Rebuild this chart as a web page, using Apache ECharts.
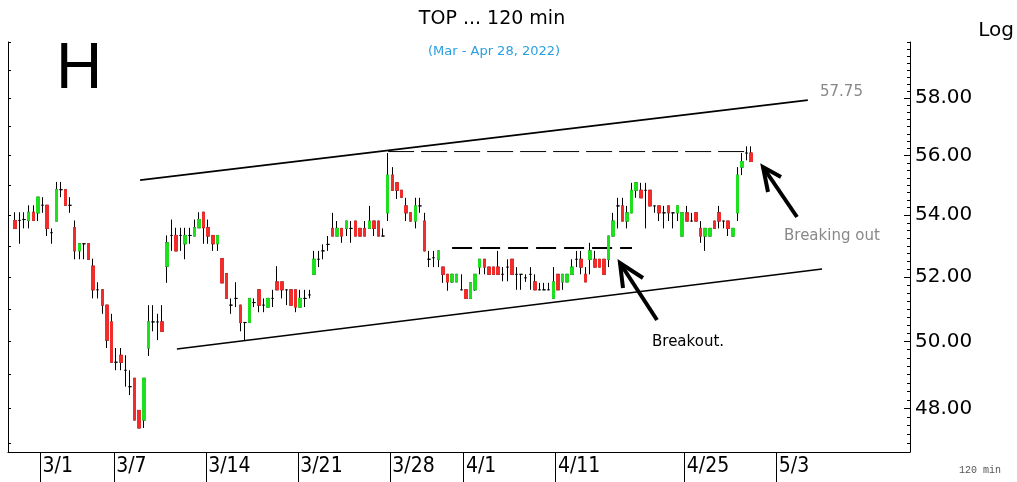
<!DOCTYPE html>
<html>
<head>
<meta charset="utf-8">
<title>TOP 120 min</title>
<script src="https://cdn.jsdelivr.net/npm/echarts@6/dist/echarts.min.js"></script>
<style>
  html, body { margin: 0; padding: 0; background: #fff; }
  #chart { width: 1017px; height: 482px; }
</style>
</head>
<body>
<div id="chart"></div>
<script>
/* ----------  data (120 min bars)  ---------- */
const opens = [
  53.83, 53.83, 53.86, 53.83, 54.10, 54.08, 54.33, 54.33, 53.43, 53.81,
  54.85, 54.85, 54.33, 53.59, 52.84, 53.07, 53.07, 52.35, 51.60, 51.60,
  51.12, 50.60, 49.37, 49.58, 49.13, 48.64, 48.89, 47.94, 47.66, 49.80,
  50.60, 50.60, 50.60, 52.35, 53.34, 53.34, 53.34, 53.07, 53.34, 53.32,
  53.59, 54.10, 53.59, 53.34, 53.07, 52.59, 52.11, 51.12, 51.33, 51.12,
  50.58, 50.58, 51.20, 51.60, 51.12, 51.06, 51.33, 51.85, 51.85, 51.60,
  51.60, 51.60, 51.06, 51.33, 51.44, 52.09, 52.57, 52.84, 53.05, 53.57,
  53.32, 53.57, 53.57, 53.57, 53.81, 53.57, 53.57, 53.57, 53.81, 53.81,
  53.32, 54.08, 55.34, 55.08, 54.83, 54.31, 54.08, 53.81, 54.31, 53.81,
  52.57, 52.62, 52.57, 52.32, 52.09, 51.85, 51.85, 51.60, 51.60, 51.33,
  51.60, 52.32, 52.57, 52.32, 52.32, 52.32, 52.09, 52.32, 52.57, 52.09,
  52.09, 51.98, 52.09, 51.85, 51.60, 51.60, 51.60, 51.33, 52.09, 51.85,
  51.85, 52.09, 52.57, 52.57, 52.09, 52.57, 52.57, 52.57, 52.57, 52.57,
  53.32, 54.31, 54.31, 53.81, 54.08, 54.83, 54.83, 54.83, 54.83, 54.31,
  54.31, 54.08, 54.31, 54.08, 54.08, 53.32, 54.08, 53.81, 54.08, 53.57,
  53.32, 53.32, 53.81, 54.08, 53.81, 53.81, 53.32, 54.08, 55.61, 56.09,
  56.09
];
const highs = [
  54.10, 54.10, 54.10, 54.33, 54.33, 54.60, 54.60, 54.33, 53.57, 55.11,
  55.11, 54.85, 54.60, 53.83, 53.07, 53.07, 53.07, 52.59, 51.84, 51.60,
  51.12, 50.85, 49.80, 49.80, 49.58, 49.13, 48.89, 47.94, 48.89, 51.12,
  51.12, 50.85, 51.12, 53.34, 53.86, 53.59, 53.59, 53.59, 53.59, 53.86,
  54.10, 54.10, 53.86, 53.34, 53.34, 52.59, 52.11, 51.33, 51.84, 51.12,
  50.60, 51.33, 51.33, 51.60, 51.33, 51.33, 51.60, 52.35, 51.85, 51.60,
  51.60, 51.60, 51.60, 51.60, 51.60, 52.84, 52.84, 53.05, 53.32, 54.08,
  53.81, 53.57, 53.81, 53.81, 53.81, 53.57, 53.81, 54.31, 53.81, 53.81,
  53.57, 56.09, 55.61, 55.08, 54.83, 54.58, 54.08, 54.58, 54.58, 54.08,
  52.84, 52.84, 52.84, 52.32, 52.09, 52.09, 52.09, 52.09, 51.60, 51.82,
  52.09, 52.57, 52.57, 52.32, 52.32, 52.84, 52.32, 52.57, 52.57, 52.32,
  52.09, 52.09, 52.32, 52.09, 51.82, 51.82, 51.82, 52.32, 52.09, 52.09,
  52.09, 52.57, 52.84, 52.84, 52.32, 53.10, 52.84, 52.57, 52.57, 53.32,
  54.08, 54.58, 54.58, 54.31, 55.08, 55.08, 55.08, 55.08, 54.83, 54.31,
  54.31, 54.31, 54.31, 54.08, 54.31, 54.08, 54.31, 54.08, 54.08, 53.81,
  53.57, 53.57, 53.81, 54.31, 53.81, 53.81, 53.57, 55.61, 56.09, 56.32,
  56.32
];
const lows = [
  53.57, 53.07, 53.57, 53.57, 53.83, 53.81, 54.08, 53.32, 53.07, 53.81,
  54.60, 54.33, 54.08, 52.57, 52.57, 52.57, 52.57, 51.33, 51.33, 50.85,
  49.80, 49.37, 49.13, 49.13, 48.64, 48.39, 47.66, 47.43, 47.43, 49.56,
  50.31, 50.04, 50.31, 51.82, 52.84, 52.84, 52.84, 52.57, 53.07, 53.32,
  53.59, 53.07, 53.07, 52.84, 52.84, 51.82, 51.33, 50.85, 51.06, 50.31,
  50.04, 50.58, 51.06, 50.90, 50.90, 51.06, 51.06, 51.60, 51.33, 51.12,
  51.12, 50.90, 51.06, 51.06, 51.33, 52.09, 52.32, 52.57, 52.84, 53.32,
  53.32, 53.10, 53.32, 53.10, 53.32, 53.32, 53.32, 53.57, 53.32, 53.32,
  53.32, 53.81, 54.83, 54.54, 54.58, 53.81, 53.81, 53.57, 54.08, 52.84,
  52.32, 52.32, 52.32, 51.82, 51.57, 51.82, 51.85, 51.60, 51.33, 51.33,
  51.57, 52.09, 52.09, 52.09, 52.09, 52.09, 51.87, 51.87, 52.09, 51.60,
  51.60, 51.85, 51.60, 51.60, 51.60, 51.60, 51.60, 51.33, 51.60, 51.60,
  51.85, 52.09, 52.32, 52.09, 51.85, 52.09, 52.32, 52.32, 52.09, 52.32,
  53.32, 53.57, 53.81, 53.57, 54.08, 54.58, 54.58, 53.57, 54.31, 54.08,
  53.81, 53.57, 53.81, 53.57, 53.81, 53.32, 53.81, 53.81, 53.81, 53.10,
  52.84, 53.32, 53.57, 53.57, 53.57, 53.32, 53.32, 53.81, 55.34, 55.84,
  55.80
];
const closes = [
  53.57, 53.83, 53.86, 54.10, 53.83, 54.60, 54.33, 53.57, 53.43, 54.85,
  54.85, 54.33, 54.33, 52.84, 53.07, 53.07, 52.57, 51.60, 51.60, 51.12,
  50.04, 49.37, 49.37, 49.37, 49.13, 48.64, 47.66, 47.43, 48.89, 50.60,
  50.60, 50.60, 50.31, 53.10, 53.34, 52.84, 53.34, 53.34, 53.34, 53.59,
  53.86, 53.59, 53.32, 53.07, 53.34, 51.82, 51.33, 51.12, 51.33, 50.58,
  50.58, 51.33, 51.20, 51.12, 51.12, 51.33, 51.33, 51.60, 51.60, 51.60,
  51.12, 51.06, 51.33, 51.33, 51.44, 52.57, 52.57, 52.84, 53.05, 53.32,
  53.57, 53.32, 53.81, 53.57, 53.32, 53.32, 53.32, 53.81, 53.57, 53.32,
  53.32, 55.34, 54.83, 54.83, 54.60, 54.08, 53.81, 54.31, 54.31, 52.84,
  52.57, 52.62, 52.84, 52.09, 51.85, 52.09, 52.09, 51.60, 51.33, 51.82,
  52.09, 52.57, 52.32, 52.09, 52.09, 52.09, 52.09, 52.32, 52.09, 52.09,
  52.09, 51.98, 52.09, 51.60, 51.60, 51.60, 51.60, 51.85, 51.60, 52.09,
  52.09, 52.32, 52.57, 52.32, 51.85, 52.84, 52.32, 52.32, 52.09, 53.32,
  53.81, 54.31, 53.81, 54.08, 54.83, 55.08, 54.58, 54.83, 54.31, 54.31,
  54.08, 54.08, 54.08, 54.08, 54.31, 54.08, 53.81, 53.81, 53.81, 53.32,
  53.57, 53.57, 53.57, 53.81, 53.81, 53.57, 53.57, 55.34, 55.80, 56.09,
  55.80
];

/* x axis: one slot per bar, labels on selected slots */
const slotCount = 196;
const firstSlot = 1;
const tickIdx = [7, 23, 43, 63, 83, 99, 119, 147, 167];
const tickLabels = ['3/1', '3/7', '3/14', '3/21', '3/28', '4/1', '4/11', '4/25', '5/3'];

/* y axis (log) */
const priceLabels = [48, 50, 52, 54, 56, 58];
const wholePrices = [47, 48, 49, 50, 51, 52, 53, 54, 55, 56, 57, 58, 59, 60];
const yMin = 46.74;
const yMax = 60.02;

/* drawn lines: [slot position, price] */
const upperLine = [[28.7, 55.17], [173.8, 57.93]];
const lowerLine = [[36.7, 49.77], [176.9, 52.26]];
const topDash = [[82.6, 56.14], [160.8, 56.14]];
const midDash = [[96.5, 52.93], [135.6, 52.93]];

/* ----------  build  ---------- */
const lg = Math.log;
const blank = ['-', '-', '-', '-'];

const labelAt = {};
tickIdx.forEach((k, i) => { labelAt[k] = tickLabels[i]; });
const slots = [];
for (let i = 0; i < slotCount; i++) slots.push('s' + i);

const wickData = [];
const bodyData = [];
for (let i = 0; i < firstSlot; i++) { wickData.push(blank); bodyData.push(blank); }
opens.forEach((o, i) => {
  const c = closes[i];
  wickData.push([lg(o), lg(c), lg(lows[i]), lg(highs[i])]);
  bodyData.push(o === c ? blank : [lg(o), lg(c), lg(Math.min(o, c)), lg(Math.max(o, c))]);
});

const minorTicks = [];
for (let p = 47; p <= 60.001; p += 0.25) minorTicks.push(lg(p));

const toLn = (pts) => pts.map(([x, p]) => [x, lg(p)]);
function trend(pts, width, type) {
  return {
    type: 'line',
    xAxisIndex: 1,
    yAxisIndex: 0,
    data: toLn(pts),
    symbol: 'none',
    silent: true,
    lineStyle: { color: '#000', width, type },
    z: 1,
  };
}

const GREEN = '#1fe01f';
const RED = '#f22b2b';
const UI = 'DejaVu Sans';

const chart = echarts.init(document.getElementById('chart'), null, { renderer: 'canvas' });

const yBase = {
  type: 'value',
  min: lg(yMin),
  max: lg(yMax),
  splitLine: { show: false },
};

chart.setOption({
  animation: false,
  backgroundColor: '#fff',
  grid: { left: 8, right: 107, top: 42, bottom: 30 },
  xAxis: [
    {
      type: 'category',
      data: slots,
      boundaryGap: true,
      axisLine: { onZero: false, lineStyle: { color: '#000', width: 1 } },
      axisTick: { show: false },
      axisLabel: {
        interval: (i) => labelAt[i] !== undefined,
        formatter: (v, i) => labelAt[i] || '',
        align: 'left',
        margin: 4,
        color: '#000',
        fontSize: 21,
        fontFamily: 'Liberation Sans Narrow, DejaVu Sans Condensed, sans-serif',
      },
      splitLine: { show: false },
    },
    {
      type: 'value',
      min: 0,
      max: slotCount,
      position: 'bottom',
      axisLine: { show: false, onZero: false },
      axisLabel: { show: false },
      axisTick: {
        show: true,
        length: 30,
        customValues: tickIdx,
        lineStyle: { color: '#000', width: 1 },
      },
      splitLine: { show: false },
    },
  ],
  yAxis: [
    {
      ...yBase,
      position: 'right',
      axisLine: { show: true, onZero: false, lineStyle: { color: '#000', width: 1 } },
      axisTick: {
        show: true,
        inside: true,
        length: 6,
        customValues: priceLabels.map(lg),
        lineStyle: { color: '#000' },
      },
      axisLabel: {
        customValues: priceLabels.map(lg),
        formatter: (v) => Math.exp(v).toFixed(2),
        color: '#000',
        fontSize: 20,
        fontFamily: UI,
        margin: 5,
      },
    },
    {
      ...yBase,
      position: 'right',
      axisLine: { show: false, onZero: false },
      axisTick: {
        show: true,
        inside: true,
        length: 3,
        customValues: minorTicks,
        lineStyle: { color: '#000' },
      },
      axisLabel: { show: false },
    },
    {
      ...yBase,
      position: 'left',
      axisLine: { show: true, onZero: false, lineStyle: { color: '#000', width: 1 } },
      axisTick: {
        show: true,
        inside: true,
        length: 3,
        customValues: wholePrices.map(lg),
        lineStyle: { color: '#000' },
      },
      axisLabel: { show: false },
    },
  ],
  series: [
    trend(upperLine, 1.6, 'solid'),
    trend(lowerLine, 1.6, 'solid'),
    trend(topDash, 1, [26, 7]),
    trend(midDash, 2, [20, 8]),
    {
      name: 'wick',
      type: 'candlestick',
      data: wickData,
      barWidth: 3,
      silent: true,
      itemStyle: {
        color: '#000', color0: '#000',
        borderColor: '#000', borderColor0: '#000', borderColorDoji: '#000',
        borderWidth: 1,
      },
      z: 2,
    },
    {
      name: 'body',
      type: 'candlestick',
      data: bodyData,
      barWidth: 3,
      silent: true,
      itemStyle: {
        color: GREEN, color0: RED,
        borderColor: GREEN, borderColor0: RED, borderColorDoji: '#000',
        borderWidth: 1,
      },
      z: 3,
    },
  ],
  graphic: [
    { type: 'text', x: 492, y: 19, style: { text: 'TOP ... 120 min', fill: '#000', fontSize: 19, fontFamily: UI, align: 'center', verticalAlign: 'middle' } },
    { type: 'text', x: 494, y: 52, style: { text: '(Mar - Apr 28, 2022)', fill: '#2a9fe0', fontSize: 13, fontFamily: UI, align: 'center', verticalAlign: 'middle' } },
    { type: 'text', x: 56, y: 70, style: { text: 'H', fill: '#000', fontSize: 64, fontFamily: 'Liberation Sans', align: 'left', verticalAlign: 'middle' } },
    { type: 'text', x: 996, y: 31, style: { text: 'Log', fill: '#000', fontSize: 20, fontFamily: UI, align: 'center', verticalAlign: 'middle' } },
    { type: 'text', x: 980, y: 470, style: { text: '120 min', fill: '#555', fontSize: 10, fontFamily: 'Liberation Mono', align: 'center', verticalAlign: 'middle' } },
    { type: 'text', x: 820, y: 92, style: { text: '57.75', fill: '#888', fontSize: 15, fontFamily: UI, align: 'left', verticalAlign: 'middle' } },
    { type: 'text', x: 652, y: 342, style: { text: 'Breakout.', fill: '#000', fontSize: 15, fontFamily: UI, align: 'left', verticalAlign: 'middle' } },
    { type: 'text', x: 784, y: 236, style: { text: 'Breaking out', fill: '#888', fontSize: 15, fontFamily: UI, align: 'left', verticalAlign: 'middle' } },
    /* arrows */
    { type: 'polyline', shape: { points: [[657, 320], [620, 263]] }, style: { stroke: '#000', lineWidth: 4, fill: null } },
    { type: 'polyline', shape: { points: [[623, 288], [620, 263], [643, 278]] }, style: { stroke: '#000', lineWidth: 4, fill: null } },
    { type: 'polyline', shape: { points: [[797, 217], [763, 167]] }, style: { stroke: '#000', lineWidth: 4, fill: null } },
    { type: 'polyline', shape: { points: [[768, 192], [763, 167], [781, 177]] }, style: { stroke: '#000', lineWidth: 4, fill: null } },
  ],
});
</script>
</body>
</html>
